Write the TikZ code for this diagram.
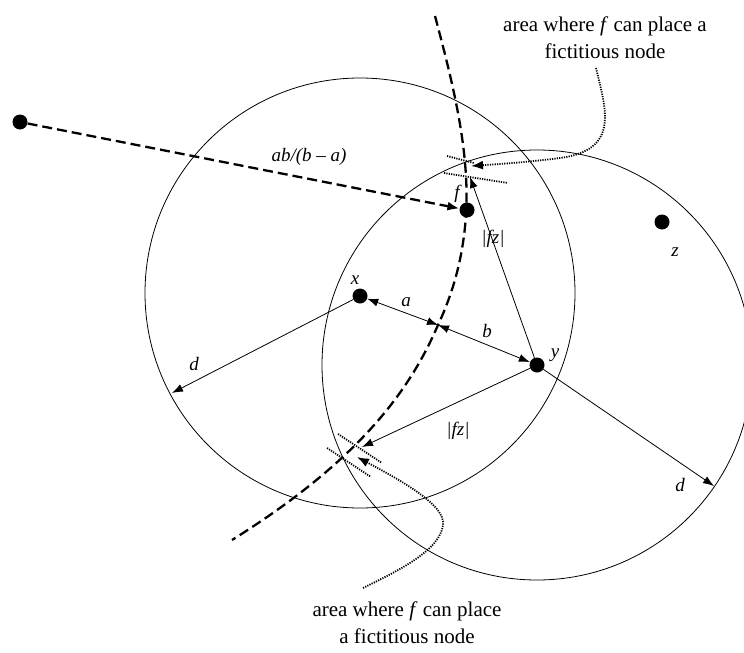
\documentclass[tikz,border=0pt]{standalone}
\usepackage{fontspec}
\setmainfont{Liberation Serif}
\usetikzlibrary{arrows.meta}
\begin{document}
\begin{tikzpicture}[x=1pt,y=-1pt,
  dot/.style={circle,fill=black,inner sep=0pt,minimum size=15pt},
  lab/.style={font=\fontsize{19}{21}\selectfont\itshape,inner sep=1pt},
  note/.style={font=\fontsize{21}{27}\selectfont,align=center,inner sep=0pt},
  thin arrow/.style={line width=0.8pt,-{Latex[length=11pt,width=8pt]}},
  both arrow/.style={line width=0.8pt,{Latex[length=11pt,width=8pt]}-{Latex[length=11pt,width=8pt]}},
  bigdash/.style={line width=2.3pt,dash pattern=on 10pt off 5pt},
  dotline/.style={line width=1.8pt,dash pattern=on 1.2pt off 1.2pt},
  ring/.style={line width=0.8pt}]
\useasboundingbox (0,0) rectangle (744,653);
% circles
\draw[ring] (360,293) circle[radius=215];
\draw[ring] (537,365) circle[radius=215];
% dashed curve
\draw[bigdash] (435,16) .. controls (452,80) and (470,150) .. (466,215)
  .. controls (463,260) and (452,295) .. (438,325)
  .. controls (410,390) and (360,460) .. (232,540);
% nodes
\node[dot] (p) at (20,122) {};
\node[dot] (f) at (467,210) {};
\node[dot] (x) at (360,296) {};
\node[dot] (y) at (537,365) {};
\node[dot] (z) at (662,222) {};
\node[lab] at (457,194) {f};
\node[lab] at (355,280) {x};
\node[lab] at (555,355) {y};
\node[lab] at (675,252) {z};
% free ends
\coordinate (mid) at (438,325);
\coordinate (dL) at (172,393);
\coordinate (dR) at (714,486);
\coordinate (up) at (470,177);
\coordinate (lo) at (362,447);
% dashed arrow
\draw[bigdash,-{Latex[length=12pt,width=9pt]}] (p) -- (f);
\node[lab] at (309,157) {ab/(b – a)};
% arrows
\draw[both arrow] (x) -- (mid);
\draw[both arrow] (mid) -- (y);
\node[lab] at (406,302) {a};
\node[lab] at (487,331) {b};
\draw[thin arrow] (y) -- (up);
\draw[thin arrow] (y) -- (lo);
\node[lab] at (493,239) {|fz|};
\node[lab] at (458,431) {|fz|};
\draw[thin arrow] (x) -- (dL);
\draw[thin arrow] (y) -- (dR);
\node[lab] at (194,364) {d};
\node[lab] at (680,485) {d};
% dotted tangent lines
\coordinate (t1a) at (447,156); \coordinate (t1b) at (474,163);
\coordinate (t2a) at (444,173); \coordinate (t2b) at (508,183);
\coordinate (t3a) at (338,434); \coordinate (t3b) at (382,463);
\coordinate (t4a) at (327,448); \coordinate (t4b) at (371,477);
\draw[dotline] (t1a) -- (t1b);
\draw[dotline] (t2a) -- (t2b);
\draw[dotline] (t3a) -- (t3b);
\draw[dotline] (t4a) -- (t4b);
% notes
\node[note] (n1) at (605,38) {area where \textit{f} can place a\\fictitious node};
\node[note] (n2) at (407,623) {area where \textit{f} can place\\a fictitious node};
\coordinate (s1) at (596,68);
\coordinate (s2) at (363,588);
\coordinate (e1) at (471,166);
\coordinate (e2) at (357,457);
\draw[dotline,-{Latex[length=12pt,width=9pt]}] (s1) .. controls (606,110) and (620,150) .. (560,158)
  .. controls (530,162) and (500,164) .. (e1);
\draw[dotline,-{Latex[length=12pt,width=9pt]}] (s2) .. controls (400,570) and (440,550) .. (443,525)
  .. controls (446,505) and (400,480) .. (e2);
\end{tikzpicture}
\end{document}
